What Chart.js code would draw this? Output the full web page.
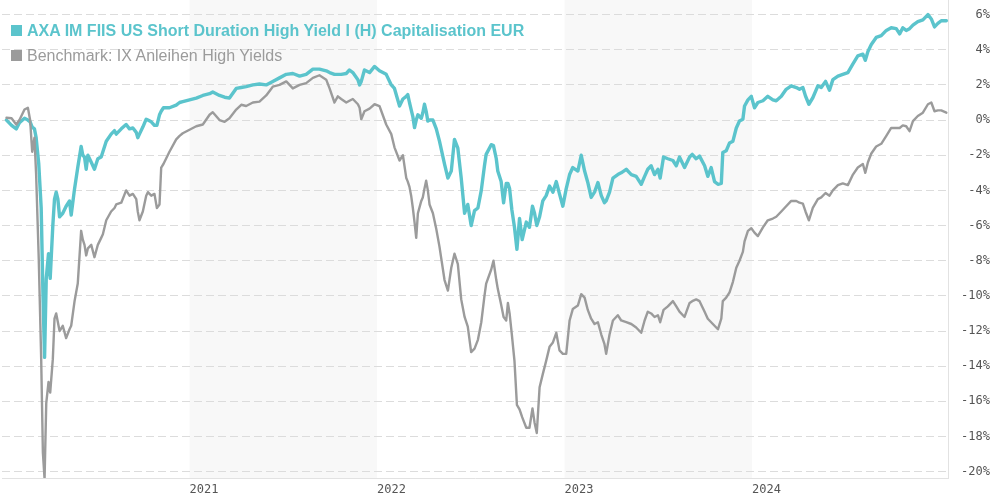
<!DOCTYPE html>
<html>
<head>
<meta charset="utf-8">
<title>AXA IM FIIS US Short Duration High Yield</title>
<script src="https://cdn.jsdelivr.net/npm/chart.js@4.4.0/dist/chart.umd.min.js"></script>
<style>
  html, body { margin: 0; padding: 0; background: #fff; }
  #wrap { position: relative; width: 990px; height: 500px; overflow: hidden; }
  #legend { position: absolute; left: 11px; top: 18px; font-family: 'Liberation Sans', Arial, sans-serif; font-size: 16px; line-height: 25px; }
  #legend .item { white-space: nowrap; }
  #legend .box { display: inline-block; width: 11px; height: 11px; margin-right: 5px; }
</style>
</head>
<body>
<div id="wrap">
  <canvas id="chart" width="990" height="500"></canvas>
  <div id="legend"></div>
</div>
<script>
// Series names and colours
const seriesNames = ['AXA IM FIIS US Short Duration High Yield I (H) Capitalisation EUR', 'Benchmark: IX Anleihen High Yields'];
const seriesColors = ['#5bc4cc', '#9b9b9b'];

// Dates as decimal years
const dates = [
  2020.024, 2020.051, 2020.076, 2020.093, 2020.120, 2020.138, 2020.150, 2020.161, 2020.173, 2020.182,
  2020.196, 2020.209, 2020.218, 2020.227, 2020.236, 2020.248, 2020.257, 2020.271, 2020.280, 2020.289,
  2020.298, 2020.307, 2020.324, 2020.342, 2020.360, 2020.369, 2020.387, 2020.404, 2020.422, 2020.431,
  2020.440, 2020.449, 2020.458, 2020.476, 2020.493, 2020.511, 2020.529, 2020.538, 2020.556, 2020.582,
  2020.600, 2020.609, 2020.636, 2020.662, 2020.680, 2020.698, 2020.716, 2020.724, 2020.733, 2020.751,
  2020.769, 2020.778, 2020.796, 2020.813, 2020.826, 2020.840, 2020.849, 2020.861, 2020.893, 2020.929,
  2020.947, 2020.964, 2021.000, 2021.036, 2021.071, 2021.107, 2021.124, 2021.160, 2021.187, 2021.213,
  2021.249, 2021.276, 2021.302, 2021.338, 2021.373, 2021.409, 2021.444, 2021.480, 2021.516, 2021.551,
  2021.587, 2021.622, 2021.658, 2021.693, 2021.729, 2021.747, 2021.773, 2021.791, 2021.809, 2021.836,
  2021.853, 2021.871, 2021.898, 2021.907, 2021.916, 2021.933, 2021.960, 2021.987, 2022.013, 2022.049,
  2022.076, 2022.093, 2022.120, 2022.138, 2022.156, 2022.164, 2022.173, 2022.182, 2022.191, 2022.200,
  2022.209, 2022.218, 2022.236, 2022.244, 2022.253, 2022.262, 2022.271, 2022.280, 2022.298, 2022.316,
  2022.333, 2022.360, 2022.378, 2022.396, 2022.413, 2022.431, 2022.449, 2022.467, 2022.484, 2022.502,
  2022.520, 2022.538, 2022.556, 2022.573, 2022.582, 2022.609, 2022.621, 2022.636, 2022.644, 2022.662,
  2022.675, 2022.689, 2022.698, 2022.707, 2022.719, 2022.733, 2022.746, 2022.760, 2022.774, 2022.796,
  2022.813, 2022.829, 2022.840, 2022.852, 2022.867, 2022.884, 2022.902, 2022.920, 2022.938, 2022.956,
  2022.973, 2022.991, 2023.009, 2023.027, 2023.044, 2023.071, 2023.089, 2023.107, 2023.124, 2023.142,
  2023.160, 2023.178, 2023.196, 2023.213, 2023.222, 2023.240, 2023.258, 2023.284, 2023.302, 2023.329,
  2023.356, 2023.382, 2023.409, 2023.427, 2023.444, 2023.462, 2023.480, 2023.498, 2023.510, 2023.528,
  2023.551, 2023.578, 2023.596, 2023.613, 2023.640, 2023.667, 2023.681, 2023.702, 2023.720, 2023.747,
  2023.764, 2023.782, 2023.800, 2023.818, 2023.836, 2023.844, 2023.862, 2023.880, 2023.898, 2023.916,
  2023.933, 2023.951, 2023.960, 2023.978, 2023.996, 2024.013, 2024.031, 2024.058, 2024.084, 2024.111,
  2024.129, 2024.156, 2024.182, 2024.209, 2024.236, 2024.253, 2024.271, 2024.285, 2024.303, 2024.324,
  2024.351, 2024.369, 2024.392, 2024.413, 2024.431, 2024.458, 2024.484, 2024.511, 2024.538, 2024.564,
  2024.591, 2024.604, 2024.618, 2024.636, 2024.662, 2024.689, 2024.716, 2024.742, 2024.769, 2024.787,
  2024.804, 2024.822, 2024.840, 2024.858, 2024.884, 2024.911, 2024.938, 2024.956, 2024.973, 2024.991,
  2025.009, 2025.036
];

// Fund performance in %
const fundValues = [
  0.0, -0.3, -0.5, -0.15, 0.1, 0.0, -0.1, -0.4, -0.5, -1.0,
  -2.5, -5.0, -9.7, -13.5, -9.0, -7.6, -9.0, -6.0, -4.5, -4.1,
  -4.5, -5.5, -5.3, -4.9, -4.6, -5.4, -3.9, -2.7, -1.5, -2.0,
  -2.1, -2.8, -2.0, -2.4, -2.8, -2.2, -2.1, -1.8, -1.2, -0.8,
  -0.6, -0.8, -0.5, -0.25, -0.5, -0.45, -0.7, -1.0, -0.8, -0.4,
  0.05, 0.0, -0.1, -0.3, -0.3, 0.3, 0.5, 0.7, 0.7, 0.85,
  1.0, 1.05, 1.15, 1.25, 1.4, 1.5, 1.6, 1.4, 1.3, 1.25,
  1.8, 1.85, 1.9, 2.0, 2.05, 2.0, 2.2, 2.4, 2.6, 2.65,
  2.5, 2.6, 2.9, 2.9, 2.8, 2.7, 2.6, 2.6, 2.6, 2.65,
  2.85, 2.7, 2.3, 2.0, 2.2, 2.85, 2.7, 3.05, 2.8, 2.6,
  2.0, 1.8, 0.8, 1.2, 1.35, 1.45, 1.0, 0.6, 0.2, -0.43,
  0.0, 0.3, 0.1, 0.4, 0.9, 0.5, -0.06, 0.0, 0.0, -0.5,
  -1.2, -2.5, -3.3, -2.9, -1.1, -1.6, -3.3, -5.3, -4.8, -6.0,
  -5.15, -5.0, -4.0, -2.6, -1.95, -1.4, -1.45, -2.2, -2.9, -3.5,
  -4.7, -3.6, -3.6, -3.9, -5.1, -6.1, -7.35, -5.6, -6.8, -5.8,
  -6.1, -4.9, -5.3, -6.0, -5.5, -4.6, -4.3, -3.75, -4.1, -3.5,
  -4.2, -4.9, -3.9, -3.1, -2.7, -2.9, -2.0, -2.9, -3.55, -4.4,
  -4.1, -3.55, -4.3, -4.7, -4.6, -4.1, -3.3, -3.1, -3.0, -2.8,
  -3.1, -3.2, -3.65, -3.2, -2.8, -2.6, -3.1, -2.8, -3.3, -2.1,
  -2.2, -2.3, -2.6, -2.1, -2.7, -2.1, -1.95, -2.2, -2.05, -2.6,
  -3.2, -2.7, -3.5, -3.65, -3.6, -1.85, -1.75, -1.3, -1.2, -0.45,
  -0.05, 0.05, 0.8, 1.15, 1.35, 0.7, 1.0, 1.1, 1.35, 1.15,
  1.1, 1.35, 1.75, 1.95, 1.85, 1.75, 1.85, 1.37, 0.9, 1.27,
  1.95, 1.85, 2.2, 1.7, 2.3, 2.5, 2.6, 2.7, 3.2, 3.65,
  3.75, 3.4, 3.9, 4.3, 4.7, 4.8, 5.1, 5.25, 5.2, 4.9,
  5.25, 5.1, 5.2, 5.4, 5.6, 5.7, 6.0, 5.75, 5.3, 5.5,
  5.65, 5.65
];

// Benchmark performance in %
const benchValues = [
  0.13, 0.1, -0.25, 0.0, 0.6, 0.7, 0.0, -1.8, -1.0, -3.1,
  -7.9, -13.6, -18.9, -20.4, -16.1, -14.9, -15.5, -13.6, -11.3, -11.0,
  -11.5, -12.0, -11.7, -12.4, -11.9, -11.7, -10.3, -9.3, -6.3, -6.8,
  -7.1, -7.7, -7.3, -7.1, -7.8, -7.1, -6.7, -6.5, -5.7, -5.2,
  -5.0, -4.8, -4.7, -4.0, -4.3, -4.2, -4.5, -5.2, -5.7, -5.2,
  -4.3, -4.1, -4.3, -4.2, -5.0, -4.8, -2.7, -2.5, -1.8, -1.1,
  -0.9, -0.75, -0.55, -0.35, -0.25, 0.3, 0.45, 0.0, -0.1, 0.1,
  0.6, 0.87, 0.8, 1.0, 1.05, 1.4, 1.9, 2.0, 2.2, 1.8,
  2.0, 2.1, 2.4, 2.55, 2.3, 1.8, 1.0, 1.35, 1.2, 1.0,
  1.1, 1.2, 0.9, 0.7, 0.04, 0.5, 0.65, 0.9, 0.8, -0.25,
  -0.8, -1.55, -2.3, -2.0, -3.3, -3.5, -3.8, -4.3, -5.0, -5.8,
  -6.7, -5.3, -4.6, -4.4, -3.9, -3.45, -4.0, -4.8, -5.3, -6.2,
  -7.2, -9.1, -9.7, -8.4, -7.6, -8.2, -10.2, -11.2, -11.75, -13.2,
  -13.0, -12.5, -11.5, -10.0, -9.3, -8.5, -8.0, -9.1, -9.6, -10.5,
  -11.2, -11.4, -10.4, -11.0, -12.2, -13.7, -16.2, -16.45, -16.9, -17.5,
  -17.5, -16.4, -17.2, -17.8, -15.2, -14.45, -13.7, -12.9, -12.65, -12.1,
  -13.1, -13.3, -13.3, -11.4, -10.75, -10.55, -9.9, -10.1, -10.8, -11.3,
  -11.6, -11.5, -12.2, -12.75, -13.3, -12.2, -11.4, -11.1, -11.4, -11.5,
  -11.6, -11.8, -12.1, -11.4, -10.9, -11.0, -11.2, -11.1, -11.5, -10.8,
  -10.6, -10.3, -10.6, -10.9, -11.2, -10.4, -10.3, -10.2, -10.3, -10.9,
  -11.3, -11.5, -11.7, -11.9, -11.3, -10.3, -10.1, -9.8, -9.2, -8.4,
  -8.0, -7.5, -6.9, -6.3, -6.15, -6.4, -6.6, -6.1, -5.7, -5.6,
  -5.5, -5.2, -4.9, -4.6, -4.6, -4.7, -4.75, -5.2, -5.7, -5.0,
  -4.5, -4.4, -4.15, -4.3, -4.0, -3.7, -3.6, -3.7, -3.1, -2.7,
  -2.5, -3.0, -2.4, -1.9, -1.5, -1.35, -0.9, -0.45, -0.45, -0.45,
  -0.3, -0.35, -0.63, -0.06, 0.23, 0.42, 0.9, 1.0, 0.5, 0.55,
  0.55, 0.42
];

// Axis ticks and shaded years
const yearTicks = [2021, 2022, 2023, 2024];
const yTicks = [-20, -18, -16, -14, -12, -10, -8, -6, -4, -2, 0, 2, 4, 6];
const shadedYears = [2021, 2023];

// Legend (HTML, sits over the plot like the original)
const legendEl = document.getElementById('legend');
seriesNames.forEach((name, i) => {
  const item = document.createElement('div');
  item.className = 'item';
  item.style.color = seriesColors[i];
  item.style.fontWeight = i === 0 ? 'bold' : 'normal';
  const box = document.createElement('span');
  box.className = 'box';
  box.style.background = seriesColors[i];
  item.appendChild(box);
  item.appendChild(document.createTextNode(name));
  legendEl.appendChild(item);
});

// Light grey background for every other year
const yearBands = {
  id: 'yearBands',
  beforeDraw(chart) {
    const { ctx, chartArea, scales } = chart;
    ctx.save();
    ctx.fillStyle = '#f8f8f8';
    shadedYears.forEach(yr => {
      const x0 = scales.x.getPixelForValue(yr);
      const x1 = scales.x.getPixelForValue(yr + 1);
      ctx.fillRect(x0, chartArea.top, x1 - x0, chartArea.bottom - chartArea.top);
    });
    ctx.restore();
  }
};

const toPoints = vals => dates.map((d, i) => ({ x: d, y: vals[i] }));
const tickFont = { family: "'DejaVu Sans Mono', monospace", size: 12 };

new Chart(document.getElementById('chart').getContext('2d'), {
  type: 'line',
  data: {
    datasets: [
      { label: seriesNames[1], data: toPoints(benchValues), borderColor: seriesColors[1], borderWidth: 2.4, order: 0 },
      { label: seriesNames[0], data: toPoints(fundValues), borderColor: seriesColors[0], borderWidth: 3.4, order: 1 }
    ]
  },
  options: {
    responsive: false,
    animation: false,
    layout: { padding: { left: 2, right: 0, top: 0, bottom: 0 } },
    elements: {
      point: { radius: 0 },
      line: { tension: 0, borderJoinStyle: 'round', borderCapStyle: 'round', fill: false }
    },
    plugins: { legend: { display: false }, tooltip: { enabled: false } },
    scales: {
      x: {
        type: 'linear',
        min: 2020,
        max: 2025.045,
        afterBuildTicks: s => { s.ticks = yearTicks.map(v => ({ value: v })); },
        afterFit: s => { s.height = 22; s.paddingLeft = 0; s.paddingRight = 0; },
        grid: { display: false, drawTicks: false },
        border: { display: true, color: '#e2e2e2', width: 1 },
        ticks: { align: 'start', padding: 5, color: '#555', font: tickFont, maxRotation: 0, autoSkip: false, callback: v => String(v) }
      },
      y: {
        position: 'right',
        min: -20.36,
        max: 6.83,
        afterBuildTicks: s => { s.ticks = yTicks.map(v => ({ value: v })); },
        afterFit: s => { s.width = 42; s.paddingTop = 0; s.paddingBottom = 0; },
        grid: { color: '#dcdcdc', lineWidth: 1, drawTicks: false },
        border: { display: true, color: '#e2e2e2', width: 1, dash: [8, 4] },
        ticks: { crossAlign: 'far', padding: 10, color: '#555', font: tickFont, callback: v => v + '%' }
      }
    }
  },
  plugins: [yearBands]
});
</script>
</body>
</html>
